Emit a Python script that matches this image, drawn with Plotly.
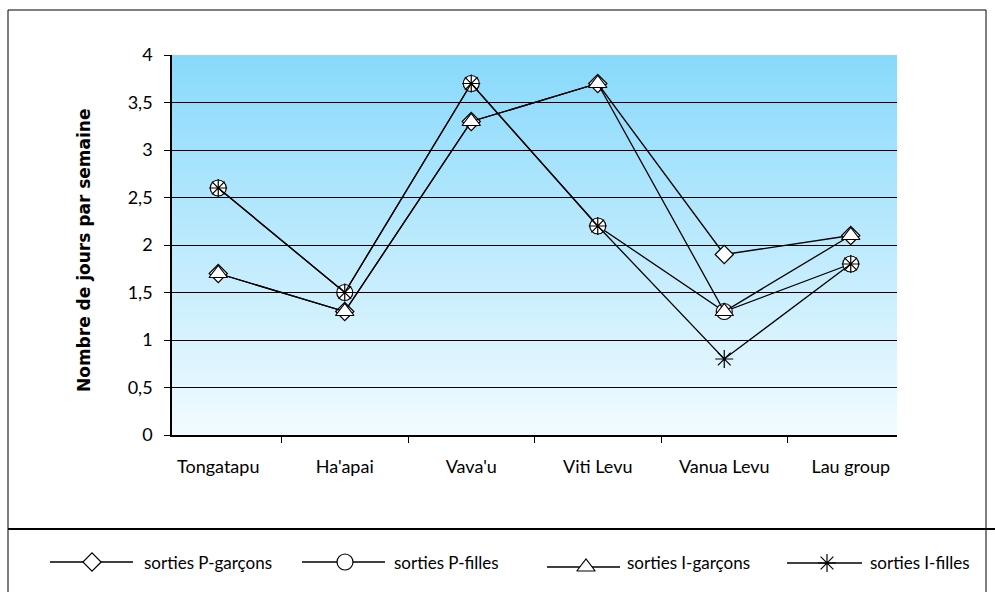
import plotly.graph_objects as go

# Data: number of days per week, by island group
categories = ["Tongatapu", "Ha'apai", "Vava'u", "Viti Levu", "Vanua Levu", "Lau group"]
p_garcons = [1.7, 1.3, 3.3, 3.7, 1.9, 2.1]
p_filles = [2.6, 1.5, 3.7, 2.2, 1.3, 1.8]
i_garcons = [1.7, 1.3, 3.3, 3.7, 1.3, 2.1]
i_filles = [2.6, 1.5, 3.7, 2.2, 0.8, 1.8]
series_names = ["sorties P-garçons", "sorties P-filles", "sorties I-garçons", "sorties I-filles"]
y_ticks = [0, 0.5, 1, 1.5, 2, 2.5, 3, 3.5, 4]
y_tick_text = ["0", "0,5", "1", "1,5", "2", "2,5", "3", "3,5", "4"]
y_title = "Nombre de jours par semaine"

W, H = 995, 592
PX0, PX1, PY0, PY1 = 172, 897, 55, 435  # plot area in pixels
FONT = "Lato, 'Noto Sans', sans-serif"
TITLE_FONT = "'DejaVu Sans', sans-serif"

symbols = ["diamond", "circle", "triangle-up", "asterisk-open"]
sizes = [14, 16, 16, 15]
fills = ["white", "white", "white", "black"]
series = [p_garcons, p_filles, i_garcons, i_filles]

fig = go.Figure()

for name, vals, sym, sz, fc in zip(series_names, series, symbols, sizes, fills):
    fig.add_trace(go.Scatter(
        x=categories, y=vals, name=name, mode="lines+markers",
        line=dict(color="black", width=1.3),
        marker=dict(symbol=sym, size=sz, color=fc,
                    line=dict(color="black", width=1.2)),
        cliponaxis=False, showlegend=False,
    ))

# Custom legend row drawn on a full-figure pixel axis pair
legend_items = [
    (50, 133, 92, 562, 142),
    (302, 385, 345, 562, 392),
    (547, 620, 586, 567, 625),
    (787, 862, 827, 563, 868),
]
for (lx0, lx1, mx, ly, tx), name, sym, sz, fc in zip(legend_items, series_names, symbols, sizes, fills):
    fig.add_shape(type="line", xref="x2", yref="y2", x0=lx0, x1=lx1, y0=ly, y1=ly,
                  line=dict(color="black", width=1.3), layer="below")
    fig.add_trace(go.Scatter(
        x=[mx], y=[ly], xaxis="x2", yaxis="y2", mode="markers", showlegend=False,
        marker=dict(symbol=sym, size=sz, color=fc, line=dict(color="black", width=1.2)),
        cliponaxis=False, hoverinfo="skip",
    ))
    fig.add_annotation(xref="x2", yref="y2", x=tx, y=562, text=name, showarrow=False,
                       xanchor="left", yanchor="middle", font=dict(family=FONT, size=17, color="black"))

# Vertical gradient background of the plot area
n_bands = 190
top = (136, 217, 252)
bottom = (242, 251, 255)
for i in range(n_bands):
    t = i / (n_bands - 1)
    c = tuple(round(bottom[k] + (top[k] - bottom[k]) * t) for k in range(3))
    fig.add_shape(type="rect", xref="x domain", yref="y",
                  x0=0, x1=1, y0=4 * i / n_bands, y1=4 * (i + 1) / n_bands,
                  fillcolor=f"rgb{c}", line=dict(width=0), layer="below")

# Outer frame and separator above the legend
fig.add_shape(type="rect", xref="x2", yref="y2", x0=8, y0=10, x1=986, y1=610,
              line=dict(color="black", width=1))
fig.add_shape(type="line", xref="x2", yref="y2", x0=8, y0=529, x1=995, y1=529,
              line=dict(color="black", width=2))

fig.add_annotation(xref="x2", yref="y2", x=84, y=250, text=f"<b>{y_title}</b>",
                   textangle=-90, showarrow=False, xanchor="center", yanchor="middle",
                   font=dict(family=TITLE_FONT, size=17, color="black"))

fig.update_layout(
    width=W, height=H,
    margin=dict(l=0, r=0, t=0, b=0),
    paper_bgcolor="white", plot_bgcolor="rgba(0,0,0,0)",
    showlegend=False,
    font=dict(family=FONT, size=17, color="black"),
    xaxis=dict(
        domain=[PX0 / W, PX1 / W], anchor="y", type="category",
        tickson="boundaries", ticks="outside", ticklen=6, tickcolor="black",
        showline=True, linecolor="black", linewidth=1.5, showgrid=False,
        ticklabelstandoff=15, automargin=False,
        tickfont=dict(family=FONT, size=18, color="black"),
    ),
    yaxis=dict(
        domain=[1 - PY1 / H, 1 - PY0 / H], anchor="x", range=[0, 4],
        tickvals=y_ticks, ticktext=y_tick_text,
        ticks="outside", ticklen=6, tickcolor="black",
        showline=True, linecolor="black", linewidth=1.5,
        showgrid=True, gridcolor="black", gridwidth=1, zeroline=False,
        ticklabelstandoff=8, automargin=False,
        tickfont=dict(family=FONT, size=18, color="black"),
    ),
    xaxis2=dict(domain=[0, 1], anchor="y2", range=[0, W], visible=False, fixedrange=True),
    yaxis2=dict(domain=[0, 1], anchor="x2", range=[H, 0], visible=False, fixedrange=True),
)

fig.write_html("out.html")
